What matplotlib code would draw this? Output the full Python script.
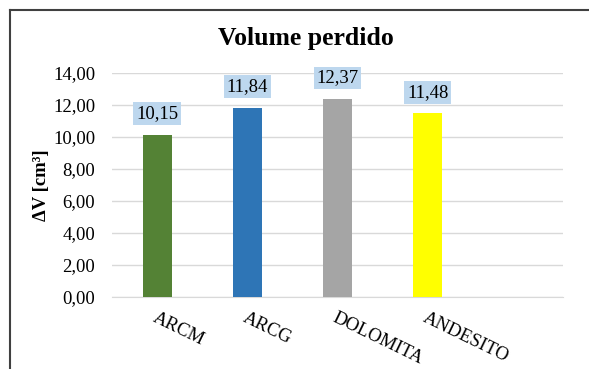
import matplotlib
matplotlib.use("Agg")
import matplotlib.pyplot as plt
from matplotlib.lines import Line2D

# Lost volume per material
categories = ["ARCM", "ARCG", "DOLOMITA", "ANDESITO"]
values = [10.15, 11.84, 12.37, 11.48]
colors = ["#548235", "#2E75B6", "#A5A5A5", "#FFFF00"]
yticks = [0, 2, 4, 6, 8, 10, 12, 14]
n_slots = 5  # the category axis holds one empty slot at the end

plt.rcParams["font.family"] = ["Liberation Serif", "DejaVu Serif"]

W, H = 589, 369
fig = plt.figure(figsize=(W / 100, H / 100), dpi=100)
ax = fig.add_axes([112 / W, 1 - 297 / H, (563 - 112) / W, (297 - 73) / H])

x = list(range(len(categories)))
ax.bar(x, values, width=0.32, color=colors, zorder=3)

ax.set_xlim(-0.5, n_slots - 0.5)
ax.set_ylim(0, 14)
ax.set_yticks(yticks)
ax.set_yticklabels([f"{v:.2f}".replace(".", ",") for v in yticks], fontsize=13.5)
ax.yaxis.grid(True, color="#D9D9D9", linewidth=1.0, zorder=0)
for s in ["top", "right", "left"]:
    ax.spines[s].set_visible(False)
ax.spines["bottom"].set_color("#D9D9D9")
ax.spines["bottom"].set_zorder(1)
ax.tick_params(axis="both", length=0)
ax.tick_params(axis="y", pad=12)

ax.set_xticks(x)
ax.set_xticklabels(categories, fontsize=13.5, rotation=-26, ha="left",
                   va="top", rotation_mode="anchor")
ax.tick_params(axis="x", pad=9)

ax.set_ylabel("ΔV [cm³]", fontsize=13.5, fontweight="bold")
ax.yaxis.set_label_coords(-0.137, 0.5)

for xi, v in zip(x, values):
    ax.annotate(f"{v:.2f}".replace(".", ","), xy=(xi, v), xytext=(0, 9),
                textcoords="offset points", ha="center", va="bottom",
                fontsize=13.5,
                bbox=dict(boxstyle="square,pad=0.15", fc="#BDD7EE", ec="none"),
                zorder=4)

fig.text(306 / W, 1 - 39 / H, "Volume perdido", ha="center", va="center",
         fontsize=18.5, fontweight="bold")

# chart frame (top and left edges)
fig.add_artist(Line2D([10 / W, 1], [1 - 10 / H, 1 - 10 / H], color="#404040",
                      linewidth=1.5, transform=fig.transFigure))
fig.add_artist(Line2D([10 / W, 10 / W], [0, 1 - 10 / H], color="#404040",
                      linewidth=1.5, transform=fig.transFigure))

fig.savefig("out.png", dpi=100)
